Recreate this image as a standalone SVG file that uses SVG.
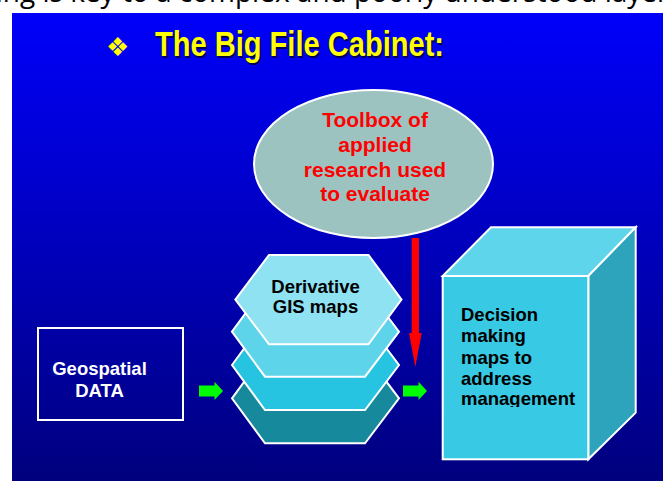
<svg xmlns="http://www.w3.org/2000/svg" width="663" height="481" viewBox="0 0 663 481">
<defs>
<linearGradient id="bg" x1="0" y1="0" x2="0" y2="1">
<stop offset="0" stop-color="#0000FA"/>
<stop offset="1" stop-color="#00007E"/>
</linearGradient>
<clipPath id="cubeclip"><rect x="444" y="277" width="143" height="130"/></clipPath>
<style>
.lbl{font-family:"Liberation Sans",Arial,sans-serif;font-weight:bold;}
.blk{fill:#000;font-size:18.5px;}
.wht{fill:#fff;font-size:18.5px;}
.red{fill:#FF0000;font-size:21px;}
.edge{stroke:#fff;stroke-width:2;stroke-linejoin:miter;}
.green{fill:#00FF00;}
</style>
</defs>
<rect x="0" y="0" width="663" height="481" fill="#fff"/>
<text x="-80" y="2" font-family="'Open Sans',sans-serif" font-size="28" fill="#000">mapping is key to a complex and poorly understood layers</text>
<rect x="12" y="13" width="651" height="468" fill="url(#bg)"/>

<g id="title">
<text x="106" y="56" font-family="'DejaVu Sans',sans-serif" font-size="26" fill="#FFFF00">❖</text>
<text x="156.5" y="57.5" class="lbl" font-size="35" fill="#000050" textLength="289" lengthAdjust="spacingAndGlyphs">The Big File Cabinet:</text>
<text x="155" y="56" class="lbl" font-size="35" fill="#FFFF00" textLength="289" lengthAdjust="spacingAndGlyphs">The Big File Cabinet:</text>
</g>

<g id="toolbox">
<ellipse cx="373.5" cy="164" rx="119.5" ry="74" fill="#9DC3C1" class="edge"/>
<text class="lbl red" text-anchor="middle" x="375" y="127">Toolbox of</text>
<text class="lbl red" text-anchor="middle" x="375" y="152">applied</text>
<text class="lbl red" text-anchor="middle" x="375" y="176.5">research used</text>
<text class="lbl red" text-anchor="middle" x="375" y="201">to evaluate</text>
</g>

<g id="geospatial">
<rect x="38" y="328" width="145" height="92" fill="none" class="edge"/>
<text class="lbl wht" text-anchor="middle" x="99.5" y="375">Geospatial</text>
<text class="lbl wht" text-anchor="middle" x="99.5" y="397">DATA</text>
</g>

<g id="derivative">
<polygon class="edge" fill="#17899D" points="232,398.3 265,353.3 365,353.3 399,398.3 365,443.3 265,443.3"/>
<polygon class="edge" fill="#27C4E2" points="232,365 265,320 365,320 399,365 365,410 265,410"/>
<polygon class="edge" fill="#5ED4EA" points="232,331.7 265,286.7 365,286.7 399,331.7 365,376.7 265,376.7"/>
<polygon class="edge" fill="#8EE2F2" points="235.3,299.6 269,255 368.5,255 401.5,299.6 368.5,344.3 269,344.3"/>
<text class="lbl blk" text-anchor="middle" x="315.5" y="293.3">Derivative</text>
<text class="lbl blk" text-anchor="middle" x="315.5" y="312.7">GIS maps</text>
</g>

<g id="decision">
<polygon class="edge" fill="#5FD5EC" points="442.7,276 491,227.3 635.7,227.3 588.3,276"/>
<polygon class="edge" fill="#2DA4BC" points="588.3,276 635.7,227.3 635.7,412.7 588.3,459.3"/>
<rect class="edge" fill="#38C9E4" x="442.7" y="276" width="145.6" height="183.3"/>
<g clip-path="url(#cubeclip)">
<text class="lbl blk" x="461" y="321">Decision</text>
<text class="lbl blk" x="461" y="342">making</text>
<text class="lbl blk" x="461" y="363.5">maps to</text>
<text class="lbl blk" x="461" y="385">address</text>
<text class="lbl blk" x="461" y="405">management</text>
</g>
</g>

<g id="connectors">
<path class="green" d="M199,385.5 H214.5 V381.7 L223,391 L214.5,400 V396.5 H199 Z"/>
<path class="green" d="M403,385.5 H418.5 V381.7 L427,391 L418.5,400 V396.5 H403 Z"/>
<path fill="#FF0000" d="M411.7,238 H419 V333 H421.7 L415.3,367 L409,333 H411.7 Z"/>
</g>
</svg>
